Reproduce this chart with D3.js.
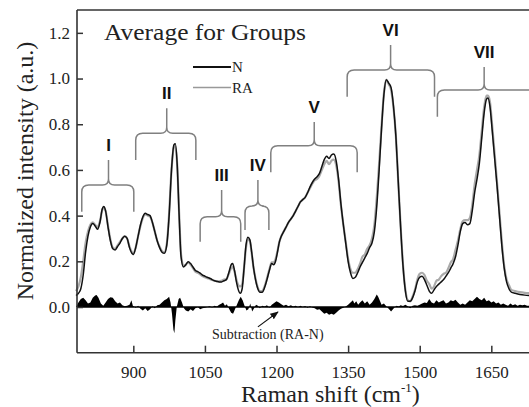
<!DOCTYPE html>
<html>
<head>
<meta charset="utf-8">
<script src="https://cdn.jsdelivr.net/npm/d3@7"></script>
<style>
  body { margin: 0; background: #fff; }
  svg { display: block; }
  svg text { font-family: "Liberation Serif", "Times New Roman", Times, serif; }
  svg text.group-label { font-family: "Liberation Sans", Arial, Helvetica, sans-serif; font-weight: bold; }
</style>
</head>
<body>
<div id="chart"></div>
<script>
const width = 529;
const height = 407;

// wavenumbers (cm-1) for the two averaged spectra
const wavenumbers = [780,785,790,795,800,805,810,815,820,825,830,835,838,842,847,852,857,862,867,872,877,882,887,892,897,900,
  905,910,915,920,925,930,935,940,945,950,955,960,965,970,975,980,985,988,992,996,1000,1005,1010,1015,1020,1025,1030,1035,
  1040,1045,1050,1055,1060,1065,1070,1075,1080,1085,1090,1095,1100,1105,1108,1112,1116,1120,1124,1128,1132,1136,1140,1144,
  1148,1152,1156,1160,1165,1170,1175,1180,1185,1190,1194,1198,1202,1206,1210,1215,1220,1225,1230,1235,1240,1245,1250,1255,
  1260,1265,1270,1275,1280,1285,1290,1295,1300,1305,1310,1315,1320,1325,1330,1335,1340,1345,1350,1355,1360,1365,1370,1375,
  1380,1385,1390,1395,1400,1405,1410,1415,1420,1425,1430,1435,1440,1445,1450,1455,1460,1465,1470,1475,1480,1485,1490,1495,
  1500,1505,1510,1515,1520,1525,1530,1535,1540,1545,1550,1555,1560,1565,1570,1575,1580,1585,1590,1595,1600,1605,1610,1615,
  1620,1625,1630,1635,1640,1643,1647,1652,1657,1662,1667,1672,1677,1682,1687,1692,1700,1710,1720,1735];

const nValues = [0.05,0.06,0.08,0.14,0.24,0.31,0.35,0.365,0.355,0.34,0.37,0.43,0.44,0.42,0.35,0.29,0.255,0.25,0.265,0.28,0.30,0.31,0.30,0.26,0.235,0.23,
  0.26,0.31,0.36,0.395,0.41,0.405,0.40,0.37,0.33,0.29,0.26,0.24,0.235,0.27,0.40,0.60,0.71,0.715,0.62,0.40,0.22,0.175,0.185,0.198,0.19,0.175,0.16,0.155,
  0.148,0.14,0.135,0.13,0.126,0.12,0.115,0.112,0.11,0.11,0.115,0.12,0.15,0.185,0.19,0.16,0.11,0.075,0.06,0.08,0.17,0.27,0.305,0.295,
  0.24,0.17,0.12,0.085,0.065,0.065,0.085,0.12,0.16,0.19,0.185,0.20,0.24,0.285,0.31,0.33,0.35,0.37,0.385,0.40,0.42,0.44,0.46,0.47,
  0.48,0.50,0.525,0.545,0.56,0.57,0.585,0.615,0.645,0.66,0.65,0.665,0.67,0.64,0.56,0.45,0.36,0.28,0.20,0.15,0.125,0.13,0.15,0.175,
  0.195,0.215,0.235,0.26,0.28,0.33,0.44,0.60,0.78,0.93,0.995,0.98,0.96,0.88,0.75,0.55,0.35,0.18,0.07,0.025,0.025,0.04,0.07,0.11,
  0.13,0.135,0.12,0.095,0.07,0.06,0.075,0.09,0.10,0.11,0.12,0.135,0.15,0.17,0.19,0.22,0.27,0.33,0.365,0.37,0.36,0.365,0.42,0.50,
  0.56,0.63,0.74,0.85,0.91,0.915,0.88,0.77,0.65,0.53,0.40,0.27,0.17,0.11,0.08,0.065,0.06,0.055,0.052,0.05];

const raValues = [0.07,0.09,0.13,0.20,0.28,0.33,0.36,0.37,0.36,0.35,0.375,0.425,0.435,0.42,0.355,0.295,0.26,0.255,0.27,0.285,0.30,0.31,0.30,0.265,0.24,0.235,
  0.26,0.31,0.355,0.39,0.405,0.40,0.395,0.37,0.33,0.29,0.265,0.245,0.24,0.275,0.41,0.60,0.70,0.705,0.62,0.41,0.23,0.18,0.185,0.195,0.185,0.17,0.155,0.15,
  0.143,0.135,0.13,0.126,0.123,0.118,0.115,0.113,0.112,0.115,0.12,0.122,0.145,0.17,0.175,0.155,0.12,0.095,0.09,0.10,0.17,0.26,0.295,0.29,
  0.235,0.17,0.125,0.09,0.07,0.07,0.09,0.125,0.165,0.195,0.195,0.21,0.245,0.285,0.31,0.33,0.35,0.37,0.385,0.40,0.42,0.44,0.46,0.47,
  0.48,0.50,0.52,0.54,0.555,0.56,0.575,0.60,0.625,0.64,0.625,0.64,0.645,0.62,0.55,0.445,0.36,0.285,0.21,0.165,0.15,0.15,0.165,0.19,
  0.22,0.23,0.255,0.27,0.30,0.36,0.48,0.63,0.79,0.935,0.995,0.975,0.95,0.875,0.75,0.55,0.355,0.185,0.075,0.03,0.025,0.045,0.075,0.12,
  0.145,0.15,0.14,0.115,0.10,0.08,0.09,0.115,0.12,0.135,0.145,0.15,0.17,0.195,0.21,0.25,0.29,0.34,0.375,0.38,0.38,0.39,0.445,0.535,
  0.60,0.665,0.77,0.875,0.925,0.925,0.9,0.79,0.67,0.545,0.415,0.285,0.18,0.12,0.095,0.075,0.07,0.065,0.062,0.06];

// subtraction spectrum (RA-N)
const subWavenumbers = [780,785,790,795,800,805,810,815,820,823,827,832,837,842,847,852,857,862,867,872,877,882,887,892,896,899,
  905,910,915,920,925,930,935,940,945,950,955,960,965,970,975,978,981,984,986,988,991,995,998,1002,1006,1010,1015,1020,1025,1030,
  1035,1040,1045,1050,1055,1060,1065,1070,1075,1080,1085,1088,1092,1096,1100,1105,1109,1113,1117,1121,1125,1129,1133,1137,1141,1145,
  1149,1153,1157,1161,1165,1170,1175,1180,1185,1190,1195,1200,1205,1210,1215,1220,1225,1230,1235,1240,1245,1250,1255,1260,1265,1270,
  1275,1280,1285,1290,1295,1300,1305,1310,1315,1320,1325,1330,1335,1340,1345,1350,1355,1360,1363,1367,1371,1375,1380,1385,1390,1395,
  1400,1405,1410,1413,1417,1420,1425,1430,1435,1440,1444,1448,1452,1456,1460,1465,1470,1475,1480,1485,1490,1495,1500,1505,1510,1515,
  1520,1525,1530,1535,1540,1545,1550,1555,1560,1565,1570,1575,1580,1585,1590,1595,1600,1605,1610,1615,1620,1625,1630,1635,1640,1645,
  1650,1655,1660,1665,1670,1675,1680,1685,1690,1695,1700,1705,1710,1715,1720,1725,1735];

const subValues = [0,0.02,0.035,0.04,0.03,0.015,0.02,0.04,0.05,0.053,0.04,0.015,0.005,0.02,0.035,0.043,0.04,0.025,0.015,0.02,0.008,0.003,0.005,0.01,0.03,0.005,
  -0.003,0.005,-0.008,-0.015,-0.005,-0.018,-0.01,0.003,-0.005,0.008,0.01,0.02,0.03,0.035,0.045,0.02,-0.03,-0.1,-0.115,-0.06,0,0.035,0.04,0.02,-0.005,-0.015,-0.02,-0.01,-0.018,-0.005,
  0,-0.01,-0.005,-0.003,0,0.003,-0.002,0.005,0.002,0.01,0.015,0.02,0.005,0.012,-0.005,-0.025,-0.03,-0.01,0.01,0.03,0.045,0.03,0.005,-0.015,-0.01,0.015,
  -0.02,-0.005,0.01,0.005,-0.005,0.005,0.002,0.008,-0.003,0.01,0.018,0.025,0.02,0.012,0.005,0.01,0.003,0.008,0.002,0.006,0,0.005,0,0.004,-0.003,0.003,
  -0.002,-0.005,-0.012,-0.01,-0.02,-0.03,-0.025,-0.034,-0.03,-0.034,-0.025,-0.015,-0.008,-0.003,0.002,0.01,0.02,0.03,0.015,0.025,0.01,0.02,0.03,0.015,0.025,0.01,
  0.02,0.035,0.055,0.045,0.025,0.01,0.015,0.003,-0.008,-0.02,-0.01,0,0.005,0.002,0.008,0.004,0.01,0.003,-0.005,0.005,0.008,0.005,0.01,0.015,0.02,0.018,
  0.035,0.02,0.015,0.03,0.02,0.025,0.03,0.015,0.02,0.03,0.025,0.032,0.02,0.01,0.015,0.01,0.02,0.03,0.025,0.035,0.045,0.035,0.03,0.04,0.025,0.03,
  0.02,0.025,0.015,0.02,0.01,0.015,0.01,0.005,0.015,0.008,0.012,0.005,0.01,0.008,0.01,0.005,0.005];

const xTicks = [900, 1050, 1200, 1350, 1500, 1650];
const yTicks = [0.0, 0.2, 0.4, 0.6, 0.8, 1.0, 1.2];

// band groups: label, left, right, centre (cm-1), bracket line, end and tip heights
const groupLabels = ["I", "II", "III", "IV", "V", "VI", "VII"];
const groupLeft = [792, 905, 1040, 1134, 1188, 1348, 1537];
const groupRight = [901, 1031, 1125, 1184, 1369, 1531, 1760];
const groupCenter = [848, 970, 1085, 1161, 1279, 1439, 1635];
const groupLine = [0.534, 0.76, 0.395, 0.442, 0.706, 1.037, 0.95];
const groupEnd = [0.417, 0.643, 0.286, 0.337, 0.59, 0.92, 0.833];
const groupTip = [0.643, 0.87, 0.512, 0.556, 0.81, 1.147, 1.05];

const x = d3.scaleLinear().domain([782, 1752]).range([77, 540]);
const y = d3.scaleLinear().domain([-0.2, 1.3]).range([352.7, 10]);

const svg = d3.select("#chart").append("svg")
  .attr("width", width)
  .attr("height", height);

const defs = svg.append("defs");
defs.append("marker")
  .attr("id", "arrow")
  .attr("viewBox", "0 0 10 10")
  .attr("refX", 9).attr("refY", 5)
  .attr("markerWidth", 7).attr("markerHeight", 7)
  .attr("orient", "auto")
  .append("path")
  .attr("d", "M0,1 L10,5 L0,9 Z")
  .attr("fill", "#111");

// subtraction filled area
const subData = subWavenumbers.map((w, i) => ({ w: w, v: subValues[i] }));
svg.append("path")
  .datum(subData)
  .attr("fill", "#000")
  .attr("d", d3.area().x((d) => x(d.w)).y0(y(0)).y1((d) => y(d.v)));

svg.append("line")
  .attr("x1", 77).attr("x2", width)
  .attr("y1", y(0)).attr("y2", y(0))
  .attr("stroke", "#000").attr("stroke-width", 1.6);

// spectra
const line = d3.line().x((d) => x(d.w)).y((d) => y(d.v)).curve(d3.curveMonotoneX);
const nData = wavenumbers.map((w, i) => ({ w: w, v: nValues[i] }));
const raData = wavenumbers.map((w, i) => ({ w: w, v: raValues[i] }));

svg.append("path").datum(raData)
  .attr("fill", "none").attr("stroke", "#aaa").attr("stroke-width", 2.2)
  .attr("d", line);
svg.append("path").datum(nData)
  .attr("fill", "none").attr("stroke", "#111").attr("stroke-width", 1.5)
  .attr("d", line);

// brackets
function bracketPath(i) {
  const xl = x(groupLeft[i]), xr = x(groupRight[i]), xc = x(groupCenter[i]);
  const yh = y(groupLine[i]), ye = y(groupEnd[i]), yt = y(groupTip[i]);
  const r = 7, c = 6;
  return "M" + xl + "," + ye +
    "L" + xl + "," + (yh + r) +
    "Q" + xl + "," + yh + " " + (xl + r) + "," + yh +
    "L" + (xc - c) + "," + yh +
    "Q" + xc + "," + yh + " " + xc + "," + (yh - c) +
    "L" + xc + "," + yt +
    "M" + xc + "," + (yh - c) +
    "Q" + xc + "," + yh + " " + (xc + c) + "," + yh +
    "L" + (xr - r) + "," + yh +
    "Q" + xr + "," + yh + " " + xr + "," + (yh + r) +
    "L" + xr + "," + ye;
}

const groups = svg.append("g").attr("class", "groups");
groups.selectAll("path")
  .data(groupLabels)
  .enter().append("path")
  .attr("d", (d, i) => bracketPath(i))
  .attr("fill", "none")
  .attr("stroke", "#808080")
  .attr("stroke-width", 1.5);

groups.selectAll("text")
  .data(groupLabels)
  .enter().append("text")
  .attr("class", "group-label")
  .attr("x", (d, i) => x(groupCenter[i]))
  .attr("y", (d, i) => y(groupTip[i]) - 9)
  .attr("text-anchor", "middle")
  .style("font-size", "17px")
  .attr("fill", "#111")
  .text((d) => d);

// frame and axes
svg.append("line").attr("x1", 77).attr("x2", width).attr("y1", 10).attr("y2", 10)
  .attr("stroke", "#333").attr("stroke-width", 1.6);
svg.append("line").attr("x1", 77).attr("x2", 77).attr("y1", 10).attr("y2", 352.7)
  .attr("stroke", "#333").attr("stroke-width", 1.6);
svg.append("line").attr("x1", 77).attr("x2", width).attr("y1", 352.7).attr("y2", 352.7)
  .attr("stroke", "#333").attr("stroke-width", 1.6);

const xAxis = svg.append("g")
  .attr("transform", "translate(0," + 352.7 + ")")
  .call(d3.axisBottom(x).tickValues(xTicks).tickSize(-7).tickPadding(13).tickFormat(d3.format("d")));
const yAxis = svg.append("g")
  .attr("transform", "translate(77,0)")
  .call(d3.axisLeft(y).tickValues(yTicks).tickSize(-6).tickPadding(7).tickFormat(d3.format(".1f")));

[xAxis, yAxis].forEach((a) => {
  a.attr("font-family", null);
  a.select(".domain").remove();
  a.selectAll(".tick line").attr("stroke", "#333").attr("stroke-width", 1.5);
  a.selectAll(".tick text")
    .style("font-size", "17px")
    .attr("fill", "#222");
});

// axis titles
svg.append("text")
  .attr("transform", "translate(33,171) rotate(-90)")
  .attr("text-anchor", "middle")
  .style("font-size", "24px")
  .attr("fill", "#222")
  .text("Normalized intensity (a.u.)");

const xTitle = svg.append("text")
  .attr("x", 241).attr("y", 402)
  .style("font-size", "24px")
  .attr("fill", "#222");
xTitle.append("tspan").text("Raman shift (cm");
xTitle.append("tspan").attr("dy", -10).style("font-size", "13px").text("-1");
xTitle.append("tspan").attr("dy", 10).text(")");

// title and legend
svg.append("text")
  .attr("x", 104).attr("y", 40)
  .style("font-size", "23px")
  .attr("textLength", 202)
  .attr("lengthAdjust", "spacingAndGlyphs")
  .attr("fill", "#222")
  .text("Average for Groups");

svg.append("line").attr("x1", 193).attr("x2", 231).attr("y1", 67).attr("y2", 67)
  .attr("stroke", "#111").attr("stroke-width", 2);
svg.append("text").attr("x", 232).attr("y", 72).style("font-size", "15px").attr("fill", "#222").text("N");
svg.append("line").attr("x1", 193).attr("x2", 231).attr("y1", 87.5).attr("y2", 87.5)
  .attr("stroke", "#999").attr("stroke-width", 1.3);
svg.append("text").attr("x", 232).attr("y", 92.5).style("font-size", "15px").attr("fill", "#222").text("RA");

// subtraction annotation
svg.append("text")
  .attr("x", 212).attr("y", 339)
  .style("font-size", "14px")
  .attr("fill", "#222")
  .text("Subtraction (RA-N)");
svg.append("line")
  .attr("x1", x(1161)).attr("y1", y(-0.087))
  .attr("x2", x(1203)).attr("y2", y(-0.022))
  .attr("stroke", "#111").attr("stroke-width", 1.2)
  .attr("marker-end", "url(#arrow)");
</script>
</body>
</html>
